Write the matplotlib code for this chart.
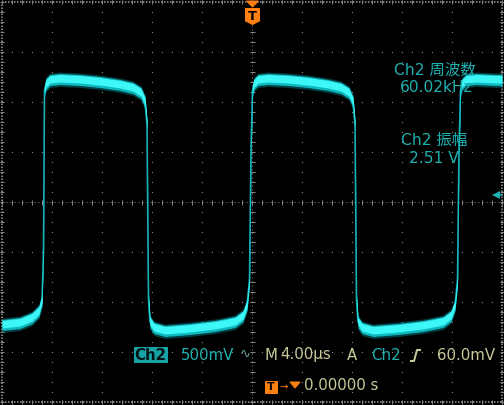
import numpy as np
import matplotlib
matplotlib.use("Agg")
import matplotlib.pyplot as plt
from matplotlib.patches import Polygon, Rectangle
from matplotlib.lines import Line2D

# Scope settings
time_per_div = 4.0      # us
volt_per_div = 0.5      # V
n_xdiv, n_ydiv = 10, 8

# Ch2 trace (time in us, voltage in V)
trace_t = [-20.0, -18.56, -17.6, -17.04, -16.8, -16.68, -16.6,
           -16.48, -16.16, -15.36, -13.76, -12.16, -10.56, -9.52, -8.88, -8.56, -8.4, -8.28,
           -8.16, -7.84, -6.96, -4.96, -2.96, -1.36, -0.72, -0.4, -0.2, -0.08, 0.04,
           0.16, 0.48, 1.28, 2.88, 4.48, 6.08, 7.12, 7.76, 8.08, 8.24, 8.36,
           8.48, 8.8, 9.68, 11.68, 13.68, 15.28, 15.92, 16.24, 16.44, 16.56, 16.68,
           16.8, 17.12, 17.92, 19.52, 20.0]
trace_v = [-1.23, -1.21, -1.16, -1.09, -0.98, -0.48, 1.12,
           1.18, 1.22, 1.23, 1.22, 1.20, 1.17, 1.14, 1.09, 1.00, 0.77, -0.98,
           -1.20, -1.26, -1.29, -1.27, -1.24, -1.20, -1.14, -1.03, -0.78, 0.52, 1.12,
           1.18, 1.22, 1.23, 1.22, 1.20, 1.17, 1.14, 1.09, 1.00, 0.77, -0.98,
           -1.20, -1.26, -1.29, -1.27, -1.24, -1.20, -1.14, -1.03, -0.78, 0.52, 1.12,
           1.18, 1.22, 1.23, 1.22, 1.22]

# Readouts
meas_labels = ["Ch2 周波数", "Ch2 振幅"]
meas_values = ["60.02kHz", "2.51 V"]
ch_scale = "500mV"
timebase = "4.00µs"
trig_level = "60.0mV"
trig_pos = "0.00000 s"

teal = "#1fb0b0"
khaki = "#c9c99b"
orange = "#ff7f10"
grid_col = "#858585"

W, H = 504, 405
fig = plt.figure(figsize=(W / 72, H / 72), dpi=72, facecolor="black")
plt.rcParams['font.family'] = ['DejaVu Sans', 'Noto Sans CJK JP']
ax = fig.add_axes([2 / W, 3 / H, 500 / W, 400 / H], facecolor="black")
xmax = time_per_div * n_xdiv / 2
ymax = volt_per_div * n_ydiv / 2
ax.set_xlim(-xmax, xmax)
ax.set_ylim(-ymax, ymax)
ax.set_xticks([])
ax.set_yticks([])
for s in ax.spines.values():
    s.set_visible(False)

# graticule: dotted grid lines
dx = time_per_div / 5
dy = volt_per_div / 5
for gx in np.arange(-xmax + time_per_div, xmax, time_per_div):
    if abs(gx) < 1e-9:
        continue
    yy = np.arange(-ymax, ymax + 1e-9, dy)
    ax.plot(np.full_like(yy, gx), yy, ls="none", marker="s", ms=1.1, mew=0, color=grid_col, zorder=1)
for gy in np.arange(-ymax + volt_per_div, ymax, volt_per_div):
    if abs(gy) < 1e-9:
        continue
    xx = np.arange(-xmax, xmax + 1e-9, dx)
    ax.plot(xx, np.full_like(xx, gy), ls="none", marker="s", ms=1.1, mew=0, color=grid_col, zorder=1)

# centre cross with minor ticks
ax.axhline(0, color=grid_col, lw=1, ls=(0, (1, 3)), zorder=1)
ax.axvline(0, color=grid_col, lw=1, ls=(0, (1, 3)), zorder=1)
xx = np.arange(-xmax, xmax + 1e-9, dx)
ax.plot(xx, np.zeros_like(xx), ls="none", marker="|", ms=5, mew=1, color=grid_col, zorder=1)
yy = np.arange(-ymax, ymax + 1e-9, dy)
ax.plot(np.zeros_like(yy), yy, ls="none", marker="_", ms=5, mew=1, color=grid_col, zorder=1)

# border
for x0, y0, x1, y1 in [(-xmax, -ymax, xmax, -ymax), (-xmax, ymax, xmax, ymax),
                       (-xmax, -ymax, -xmax, ymax), (xmax, -ymax, xmax, ymax)]:
    ax.plot([x0, x1], [y0, y1], color="#a0a0a0", lw=1.5, ls=(0, (1, 1)), zorder=1, clip_on=False)
ax.plot(xx, np.full_like(xx, ymax), ls="none", marker="|", ms=4, mew=1, color=grid_col, clip_on=False)
ax.plot(xx, np.full_like(xx, -ymax), ls="none", marker="|", ms=4, mew=1, color=grid_col, clip_on=False)
ax.plot(np.full_like(yy, -xmax), yy, ls="none", marker="_", ms=4, mew=1, color=grid_col, clip_on=False)
ax.plot(np.full_like(yy, xmax), yy, ls="none", marker="_", ms=4, mew=1, color=grid_col, clip_on=False)

# waveform: thin edges, wide persistence band on the flat parts
t = np.array(trace_t)
v = np.array(trace_v)
ax.plot(t, v, color="#16b2ba", lw=1.6, zorder=3)
ax.fill_between(t, v - 0.075, v + 0.07, color="#00b4bf", alpha=0.35, lw=0, zorder=4)
ax.fill_between(t, v - 0.055, v + 0.055, color="#12d8de", alpha=0.8, lw=0, zorder=5)
ax.fill_between(t, v - 0.03, v + 0.045, color="#3df6f6", lw=0, zorder=6)

# channel ground marker on the right edge
ax.plot([xmax - 0.5], [0.07], marker="<", ms=8, color=teal, mew=0, clip_on=False, zorder=6)
ax.plot([xmax - 0.6, xmax], [0.07, 0.07], color=teal, lw=1.6, clip_on=False, zorder=6)


def fx(px):
    return px / W


def fy(py):
    return 1 - py / H


# measurement readouts
fs = 15.5
fig.text(fx(435), fy(70), meas_labels[0], color=teal, fontsize=fs, ha="center", va="center")
fig.text(fx(436), fy(87), meas_values[0], color=teal, fontsize=fs, ha="center", va="center")
fig.text(fx(434), fy(141), meas_labels[1], color=teal, fontsize=fs, ha="center", va="center")
fig.text(fx(434), fy(158), meas_values[1], color=teal, fontsize=fs, ha="center", va="center")

# trigger position marker (top)
fig.patches.append(Polygon([[fx(246.5), fy(1)], [fx(258.5), fy(1)], [fx(252.5), fy(7)]],
                           closed=True, color=orange, transform=fig.transFigure))
fig.patches.append(Polygon([[fx(245.5), fy(8.5)], [fx(259.5), fy(8.5)], [fx(259.5), fy(21)],
                            [fx(252.5), fy(24.5)], [fx(245.5), fy(21)]],
                           closed=True, color=orange, transform=fig.transFigure))
fig.text(fx(252.5), fy(16), "T", color="black", fontsize=13, fontweight="bold", ha="center", va="center")

# bottom readout line
bfs = 15
fig.patches.append(Rectangle((fx(134), fy(362)), 33 / W, 15 / H, color="#17a3a6", transform=fig.transFigure))
fig.text(fx(150.5), fy(355), "Ch2", color="#041414", fontsize=bfs, fontweight="bold", ha="center", va="center")
fig.text(fx(181), fy(355), ch_scale, color=teal, fontsize=bfs, ha="left", va="center")
fig.text(fx(240), fy(354), "∿", color="#6f9f9f", fontsize=13, ha="left", va="center")
fig.text(fx(265), fy(355), "M", color=khaki, fontsize=bfs, ha="left", va="center")
fig.text(fx(280), fy(355), timebase, color=khaki, fontsize=bfs, ha="left", va="center")
fig.text(fx(347), fy(355), "A", color=khaki, fontsize=bfs, ha="left", va="center")
fig.text(fx(371), fy(355), "Ch2", color=teal, fontsize=bfs, ha="left", va="center")
fig.lines.append(Line2D([fx(411), fx(414), fx(417), fx(420)], [fy(361), fy(361), fy(350), fy(350)],
                        color=khaki, lw=2, transform=fig.transFigure))
fig.text(fx(437), fy(355), trig_level, color=khaki, fontsize=bfs, ha="left", va="center")

# trigger time readout
fig.patches.append(Rectangle((fx(265), fy(393)), 12 / W, 12 / H, color=orange, transform=fig.transFigure))
fig.text(fx(271), fy(387), "T", color="black", fontsize=11, fontweight="bold", ha="center", va="center")
fig.text(fx(279), fy(387), "→", color=orange, fontsize=10, ha="left", va="center")
fig.patches.append(Polygon([[fx(290), fy(382)], [fx(300), fy(382)], [fx(295), fy(388)]],
                           closed=True, color=orange, transform=fig.transFigure))
fig.text(fx(304), fy(386), trig_pos, color=khaki, fontsize=bfs, ha="left", va="center")

fig.savefig("out.png", dpi=72, facecolor="black")
